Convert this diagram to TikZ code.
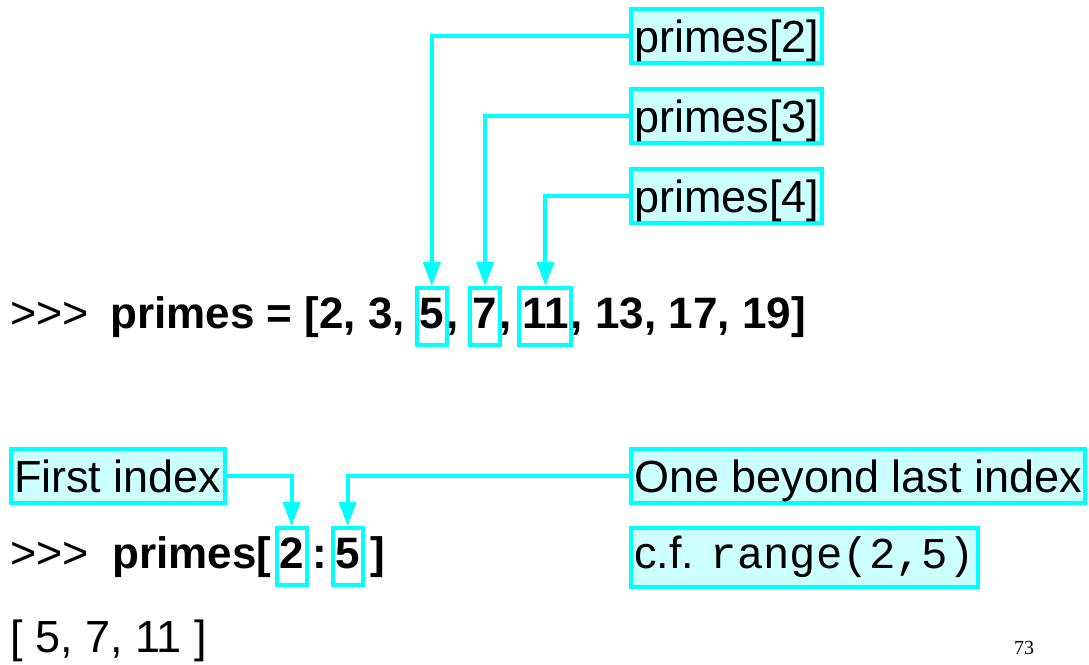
\documentclass[tikz,border=0pt]{standalone}
\usepackage{fontspec}
\setmainfont{Liberation Sans}
\setmonofont{Liberation Mono}
\newfontfamily\slidenumfont{Liberation Serif}
\usepackage{tikz}
\usetikzlibrary{positioning, arrows.meta}
\definecolor{hicyan}{HTML}{00FFFF}
\definecolor{tagfill}{HTML}{CCFFFF}
\newcommand{\bigtext}{\fontsize{45}{54}\selectfont}
\newcommand{\codetext}{\fontsize{44}{53}\selectfont\bfseries}
\newcommand{\pyprompt}{>\kern0pt>\kern0pt>}

\begin{document}
\begin{tikzpicture}[x=1pt, y=-1pt,
    plain/.style={inner sep=0pt, font=\bigtext},
    code/.style={inner sep=0pt, font=\codetext},
    hl/.style={draw=hicyan, line width=4pt, inner xsep=2.75pt, inner ysep=0pt, text height=40pt, text depth=17pt, font=\codetext},
    tag/.style={draw=hicyan, fill=tagfill, line width=4pt, inner xsep=3pt, inner ysep=2pt, text height=41.5pt, text depth=8.5pt, font=\bigtext, anchor=base west},
    pointer/.style={draw=hicyan, line width=4pt, -{Triangle[length=24pt, width=17pt]}}]
    \useasboundingbox (0,0) rectangle (1089,664);

    % the list
    \node[plain, anchor=base west] (prompt) at (10,328) {\pyprompt};
    \node[code, base right=21pt of prompt] (list) {primes = [2, 3,\ \null};
    \node[hl, base right=-2.75pt of list] (five) {5};
    \node[code, base right=-2.75pt of five] (sepa) {,\ \null};
    \node[hl, base right=-2.75pt of sepa] (seven) {7};
    \node[code, base right=-2.75pt of seven] (sepb) {,\ \kern-4pt\null};
    \node[hl, base right=-2.75pt of sepb] (eleven) {11};
    \node[code, base right=-2.75pt of eleven] (rest) {, 13, 17, 19]};

    \node[tag] (idx2) at (629,52) {primes[2]};
    \node[tag] (idx3) at (629,132) {primes[3]};
    \node[tag] (idx4) at (629,212) {primes[4]};

    \draw[pointer] (idx2.west) -| (five.north);
    \draw[pointer] (idx3.west) -| (seven.north);
    \draw[pointer] (idx4.west) -| (eleven.north);

    % the slice
    \node[plain, anchor=base west] (prompt2) at (10,568) {\pyprompt};
    \node[code, base right=23pt of prompt2] (slice) {primes[};
    \node[hl, base right=3pt of slice] (start) {2};
    \node[code, base right=3.5pt of start] (colon) {:};
    \node[hl, base right=3.5pt of colon] (stop) {5};
    \node[code, base right=6pt of stop] (close) {]};

    \node[tag] (first) at (9,492) {First index};
    \node[tag] (beyond) at (629,492) {One beyond last index};
    \node[tag, text height=38pt, text depth=17pt] (cf) at (629,568) {c.f. {\fontsize{44}{53}\selectfont\ttfamily range(2,5)}};

    \draw[pointer] (first.east) -| (start.north);
    \draw[pointer] (beyond.west) -| (stop.north);

    \node[plain, anchor=base west] (result) at (10,652) {[ 5, 7, 11 ]};
    \node[anchor=base, inner sep=0pt, font=\slidenumfont\fontsize{20}{24}\selectfont] (pagenum) at (1024,654) {73};
\end{tikzpicture}
\end{document}
